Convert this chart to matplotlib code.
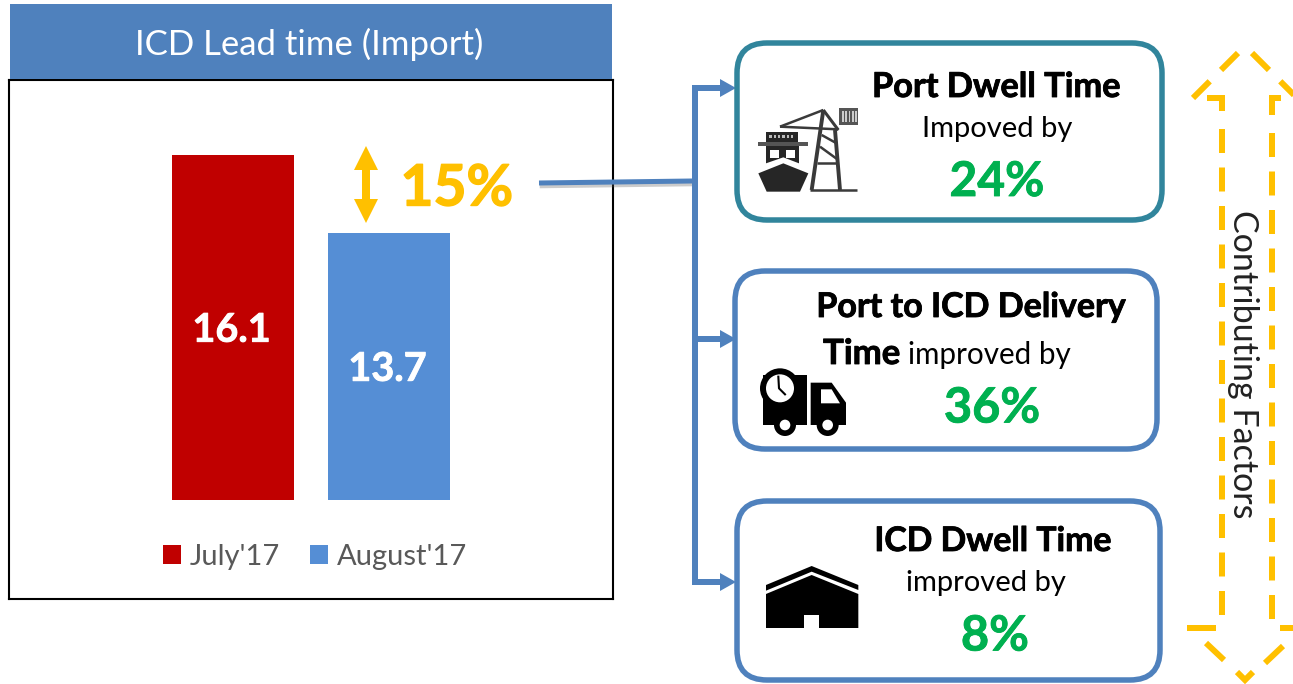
import matplotlib
matplotlib.use("Agg")
import matplotlib.pyplot as plt
import matplotlib.patheffects as pe
from matplotlib.patches import FancyBboxPatch, Polygon, Rectangle, Circle

plt.rcParams['font.family'] = ['Lato', 'DejaVu Sans']

title = "ICD Lead time (Import)"
months = ["July'17", "August'17"]
lead_times = [16.1, 13.7]
bar_colors = ["#C00000", "#558ED5"]
change_label = "15%"
side_label = "Contributing Factors"
factor_pct = ["24%", "36%", "8%"]

W, H = 1293, 684
GOLD, GREEN, STEEL = "#FFC000", "#00B050", "#4F81BD"
PX = 0.72  # points per pixel at dpi 100
BASE = 5.5

fig = plt.figure(figsize=(W / 100, H / 100), dpi=100, facecolor="white")

def px_axes(x0, y0, x1, y1, **kw):
    return fig.add_axes([x0 / W, 1 - y1 / H, (x1 - x0) / W, (y1 - y0) / H], **kw)

def fat(col, w=0.6):
    return [pe.Stroke(linewidth=w, foreground=col), pe.Normal()]

# bar chart
ax = px_axes(9, 80, 613, 599)
bars = ax.bar(range(2), [v - BASE for v in lead_times], width=0.782, bottom=BASE, color=bar_colors)
ax.set_xlim(-1.436, 2.436)
ax.set_ylim(2.46, 18.40)
ax.set_xticks([]); ax.set_yticks([])
for s in ax.spines.values():
    s.set_linewidth(1.5); s.set_color("black")
lab = [f"{v:.1f}" for v in lead_times]
texts = ax.bar_label(bars, labels=lab, label_type="center", color="white",
                     fontsize=28.5, fontweight="bold", path_effects=fat("white"))
for t in texts:
    t.xyann = (-1, -2)
leg = ax.legend(bars, months, loc="center", ncol=2, frameon=False, fontsize=21, labelcolor="#595959",
                handlelength=0.6, handleheight=0.6, handletextpad=0.3, columnspacing=1.05,
                borderpad=0, borderaxespad=0)
leg.set_bbox_to_anchor((306 / 604, (599 - 557) / 519), transform=ax.transAxes)

# overlay in pixel coordinates
ov = fig.add_axes([0, 0, 1, 1], zorder=5)
ov.set_xlim(0, W); ov.set_ylim(H, 0); ov.axis("off"); ov.patch.set_alpha(0)

ov.add_patch(Rectangle((10, 4), 602, 75, color=STEEL, lw=0))
ov.text(309, 44, title, color="white", fontsize=25, ha="center", va="center")

# gold double arrow
ov.add_patch(Polygon([(366, 146), (378, 170), (370, 170), (370, 199), (378, 199), (366, 223),
                      (354, 199), (362, 199), (362, 170), (354, 170)], color=GOLD, lw=0))
ov.text(457, 189, change_label, color=GOLD, fontsize=41, fontweight="bold", ha="center", va="center",
        path_effects=fat(GOLD, 1.0))

# connector and bracket
ov.plot([539, 692], [183, 181], color=STEEL, lw=5 * PX, solid_capstyle="butt",
        path_effects=[pe.SimpleLineShadow(offset=(0.5, -2), alpha=0.3, shadow_color="#555555"), pe.Normal()])
ov.plot([725, 695, 695, 725], [88, 88, 582, 582], color=STEEL, lw=6 * PX, solid_joinstyle="miter", solid_capstyle="butt")
ov.plot([695, 725], [339, 339], color=STEEL, lw=6 * PX, solid_capstyle="butt")
for yy in (88, 339, 582):
    ov.add_patch(Polygon([(720, yy - 9), (736, yy), (720, yy + 9)], color=STEEL, lw=0))

# rounded boxes
def box(x0, y0, x1, y1, col):
    ov.add_patch(FancyBboxPatch((x0 + 30, y0 + 30), x1 - x0 - 60, y1 - y0 - 60,
                                boxstyle="round,pad=30,rounding_size=30", fc="white", ec=col, lw=5.5 * PX))
box(737, 43, 1162, 220, "#31859C")
box(735, 271, 1157, 449, STEEL)
box(737, 501, 1160, 680, STEEL)

def T(x, y, s, size, bold=False, col="black", ha="center"):
    t = ov.text(x, y, s, fontsize=size, fontweight="bold" if bold else "normal",
                color=col, ha=ha, va="center")
    if bold:
        t.set_path_effects(fat(col))
    return t

T(996, 87, "Port Dwell Time", 24.7, True)
T(997, 129, "Impoved by", 21)
T(997, 182, factor_pct[0], 34.5, True, GREEN)
T(971, 307, "Port to ICD Delivery", 24.5, True)
T(823, 354, "Time", 25, True, ha="left")
T(908, 355, "improved by", 21.3, ha="left")
T(992, 408, factor_pct[1], 35, True, GREEN)
T(993, 541, "ICD Dwell Time", 24.3, True)
T(986, 583, "improved by", 21)
T(995, 636, factor_pct[2], 35, True, GREEN)

ov.text(1243, 364, side_label, fontsize=24.5, rotation=270, ha="center", va="center", color="#222222")

# dashed double arrow outline
lw_d = 6 * PX
dash = (0, (24 / 6, 14.5 / 6))
def seg(xs, ys, ls="-"):
    ov.plot(xs, ys, color=GOLD, lw=lw_d, ls=ls, dash_capstyle="butt",
            solid_capstyle="butt", solid_joinstyle="miter")
seg([1238, 1193], [53, 98], (0, (24 / 6, 16 / 6)))
seg([1252, 1300], [53, 101], (0, (24 / 6, 16 / 6)))
seg([1207, 1222, 1222], [98, 98, 111])
seg([1281, 1272, 1272], [98, 98, 115])
seg([1222, 1222], [129, 615], dash)
seg([1272, 1272], [133, 619], dash)
seg([1187, 1216], [628, 628])
seg([1280, 1300], [628, 628])
seg([1206, 1224], [643, 660])
seg([1283, 1265], [646, 663])
seg([1237, 1245, 1253], [672, 680, 672])

# ship and crane icon
def z1(pts):
    return [(740 + x / 3, 80 + y / 3) for x, y in pts]
dark = "#262626"
ov.add_patch(Polygon(z1([(55, 280), (130, 250), (205, 280), (180, 335), (80, 335)]), color=dark, lw=0))
ov.add_patch(Polygon(z1([(78, 190), (177, 190), (177, 250), (130, 232), (78, 250)]), color=dark, lw=0))
ov.add_patch(Rectangle((740 + 78 / 3, 80 + 155 / 3), 95 / 3, 30 / 3, color=dark, lw=0))
ov.add_patch(Rectangle((740 + 55 / 3, 80 + 186 / 3), 150 / 3, 12 / 3, color="#555555", lw=0))
for a in range(88, 165, 13):
    ov.add_patch(Rectangle((740 + a / 3, 80 + 166 / 3), 7 / 3, 8 / 3, color="#bbbbbb", lw=0))
for a, b in ((90, 118), (138, 166)):
    ov.add_patch(Rectangle((740 + a / 3, 80 + 210 / 3), (b - a) / 3, 25 / 3, color="white", lw=0))
for s, w in (([(215, 330), (250, 90)], 2.8), ([(300, 330), (285, 150)], 2.8), ([(120, 140), (250, 90)], 1.8),
             ([(250, 90), (295, 150)], 2.2), ([(120, 140), (295, 148)], 1.8), ([(210, 330), (350, 330)], 1.8),
             ([(245, 165), (290, 190)], 1.8), ([(240, 200), (295, 240)], 1.8), ([(230, 250), (295, 250)], 1.8)):
    p = z1(s)
    ov.plot([p[0][0], p[1][0]], [p[0][1], p[1][1]], color="#3a3a3a", lw=w, solid_capstyle="butt")
ov.add_patch(Rectangle((740 + 298 / 3, 80 + 85 / 3), 57 / 3, 50 / 3, color="#555555", lw=0))
for a in range(306, 350, 10):
    ov.add_patch(Rectangle((740 + a / 3, 80 + 93 / 3), 5 / 3, 34 / 3, color="#cccccc", lw=0))

# truck icon
def z2(pts):
    return [(750 + x / 3, 360 + y / 3) for x, y in pts]
def c2(x, y, r, col):
    (X, Y), = z2([(x, y)])
    ov.add_patch(Circle((X, Y), r / 3, color=col, lw=0))
ov.add_patch(Polygon(z2([(40, 45), (170, 45), (170, 195), (40, 195)]), color="black", lw=0))
c2(90, 85, 60, "black"); c2(90, 85, 42, "white")
h = z2([(85, 50), (87, 85), (105, 103)])
ov.plot([p[0] for p in h], [p[1] for p in h], color="black", lw=1.5)
ov.add_patch(Polygon(z2([(182, 68), (245, 68), (288, 128), (288, 195), (182, 195)]), color="black", lw=0))
ov.add_patch(Polygon(z2([(213, 88), (245, 88), (270, 130), (213, 130)]), color="white", lw=0))
for x in (105, 233):
    c2(x, 195, 33, "black"); c2(x, 195, 16, "white")

# warehouse icon
ov.add_patch(Polygon(z2([(48, 675), (185, 618), (325, 675), (325, 690), (185, 635), (48, 692)]), color="black", lw=0))
ov.add_patch(Polygon(z2([(48, 702), (185, 645), (325, 702), (325, 804), (48, 804)]), color="black", lw=0))
ov.add_patch(Polygon(z2([(163, 765), (207, 765), (207, 804), (163, 804)]), color="white", lw=0))

fig.savefig("out.png", dpi=100)
